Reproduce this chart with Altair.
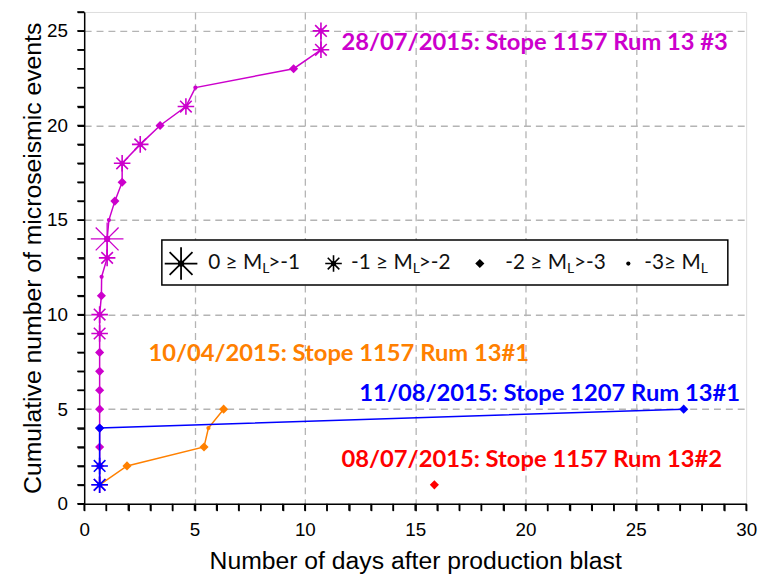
import altair as alt
import pandas as pd

# ---------------- data ----------------
series_names = ["28/07/2015: Stope 1157 Rum 13 #3",
                "10/04/2015: Stope 1157 Rum 13#1",
                "08/07/2015: Stope 1157 Rum 13#2",
                "11/08/2015: Stope 1207 Rum 13#1"]
series_colors = ["#CC00CC", "#FF8000", "#FF0000", "#0000FF"]

# magnitude classes: A = 0>=ML>-1, B = -1>=ML>-2, C = -2>=ML>-3, D = -3>=ML
mag_days = [0.70, 0.70, 0.70, 0.70, 0.70, 0.70, 0.70, 0.70, 0.70, 0.70,
            0.78, 0.79, 1.04, 1.04, 1.12, 1.39, 1.72, 1.72, 2.54, 3.44,
            4.61, 5.04, 9.49, 10.73, 10.73]
mag_count = [1, 2, 3, 4, 5, 6, 7, 8, 9, 10, 11, 12, 13, 14, 15, 16, 17, 18,
             19, 20, 21, 22, 23, 24, 25]
mag_class = ["B", "C", "C", "C", "C", "C", "C", "C", "B", "B", "C", "D", "B",
             "A", "D", "C", "C", "B", "B", "C", "B", "D", "C", "B", "B"]

org_days = [0.70, 1.94, 5.43, 5.63, 6.32]
org_count = [1, 2, 3, 4, 5]
org_class = ["D", "C", "C", "D", "C"]

red_days = [15.87]
red_count = [1]
red_class = ["C"]

blu_days = [0.70, 0.70, 0.70, 27.17]
blu_count = [1, 2, 4, 5]
blu_class = ["B", "B", "C", "C"]

# axis ticks: every unit, labelled every 5
x_ticks = [0, 1, 2, 3, 4, 5, 6, 7, 8, 9, 10, 11, 12, 13, 14, 15, 16, 17, 18, 19,
           20, 21, 22, 23, 24, 25, 26, 27, 28, 29, 30]
y_ticks = [0, 1, 2, 3, 4, 5, 6, 7, 8, 9, 10, 11, 12, 13, 14, 15, 16, 17, 18, 19,
           20, 21, 22, 23, 24, 25, 26]
x_grid = [5, 10, 15, 20, 25]
y_grid = [5, 10, 15, 20, 25]

# annotation placement (data units)
label_days = [11.66, 2.91, 11.66, 12.47]
label_count = [24.38, 7.9, 2.3, 5.81]

legend_sym_days = [4.39, 11.3, 17.93, 24.66]
legend_sym_class = ["A", "B", "C", "D"]
legend_prefix = ["0 \u2265 M", "-1 \u2265 M", "-2 \u2265 M", "-3\u2265 M"]
legend_prefix_end = [8.07, 14.89, 21.88, 27.94]
legend_suffix = [">-1", ">-2", ">-3", ""]
legend_suffix_start = [8.34, 15.16, 22.2, 28.5]
legend_y = 12.7
legend_box = [3.52, 29.17, 11.56, 13.95]

STAR = "M-1,0L1,0M0,-1L0,1M-0.7,-0.7L0.7,0.7M-0.7,0.7L0.7,-0.7"
VTICK = "M0,0L0,1"
HTICK = "M0,0L-1,0"

xs = alt.Scale(domain=[0, 30], nice=False, zero=False)
ys = alt.Scale(domain=[0, 26], nice=False, zero=False)
color = alt.Color("series:N", scale=alt.Scale(domain=series_names, range=series_colors), legend=None)

W, H = 669, 497
TICK = 7
LABEL_EXPR = "datum.value % 5 === 0 ? datum.label : ''"


def xenc(f="day"):
    return alt.X(f"{f}:Q", scale=xs, axis=None)


def yenc(f="count"):
    return alt.Y(f"{f}:Q", scale=ys, axis=None)


def marker_layers(df, col, big_width):
    base = alt.Chart(df)
    out = []
    specs = [("A", dict(shape=STAR, filled=False, size=1090, strokeWidth=big_width)),
             ("B", dict(shape=STAR, filled=False, size=280, strokeWidth=1.6)),
             ("A", dict(shape="circle", filled=True, size=40)),
             ("B", dict(shape="circle", filled=True, size=28)),
             ("C", dict(shape="diamond", filled=True, size=85)),
             ("D", dict(shape="circle", filled=True, size=18))]
    for cls, props in specs:
        out.append(base.transform_filter(alt.datum.cls == cls)
                   .mark_point(opacity=1, clip=False, **props)
                   .encode(x=xenc(), y=yenc(), color=col))
    return out


def series_layers(days, counts, classes, name):
    df = pd.DataFrame({"day": days, "count": counts, "cls": classes, "series": name})
    line = alt.Chart(df).mark_line(strokeWidth=1.5).encode(
        x=xenc(), y=yenc(), color=color, order="count:Q")
    return [line] + marker_layers(df, color, 1.3)


layers = []
dummy = pd.DataFrame({"day": [0], "count": [0]})
grid_layer = alt.Chart(dummy).mark_point(opacity=0).encode(
    x=alt.X("day:Q", scale=xs, axis=alt.Axis(orient="bottom", values=x_grid, grid=True, labels=False,
                                              ticks=False, domain=False, title=None,
                                              gridColor="#B4B4B4", gridDash=[7, 5], gridWidth=1.3)),
    y=alt.Y("count:Q", scale=ys, axis=alt.Axis(orient="left", values=y_grid, grid=True, labels=False,
                                                ticks=False, domain=False, title=None,
                                                gridColor="#B4B4B4", gridDash=[7, 5], gridWidth=1.3)))
major_layer = alt.Chart(dummy).mark_point(opacity=0).encode(
    x=alt.X("day:Q", scale=xs, axis=alt.Axis(orient="bottom", values=x_ticks, grid=False,
                                              labelExpr=LABEL_EXPR,
                                              tickSize=TICK, tickWidth=1.5, tickColor="black",
                                              domainColor="black", domainWidth=1.5,
                                              labelFont="Liberation Sans", labelFontSize=19,
                                              labelColor="black", labelPadding=10, labelFlush=False,
                                              labelOverlap=False,
                                              title="Number of days after production blast",
                                              titleFont="Liberation Sans", titleFontSize=25,
                                              titleFontWeight="normal", titleColor="black",
                                              titlePadding=9)),
    y=alt.Y("count:Q", scale=ys, axis=alt.Axis(orient="left", values=y_ticks, grid=False,
                                                labelExpr=LABEL_EXPR,
                                                tickSize=TICK, tickWidth=1.5, tickColor="black",
                                                domainColor="black", domainWidth=1.5,
                                                labelFont="Liberation Sans", labelFontSize=19,
                                                labelColor="black", labelPadding=10,
                                                labelOverlap=False,
                                                title="Cumulative number of microseismic events",
                                                titleFont="Liberation Sans", titleFontSize=25,
                                                titleFontWeight="normal", titleColor="black",
                                                titlePadding=1)))
layers += [grid_layer, major_layer]

# every-unit ticks drawn as tiny path symbols anchored on the axes
xt_df = pd.DataFrame({"v": x_ticks, "zero": [0] * len(x_ticks)})
yt_df = pd.DataFrame({"v": y_ticks, "zero": [0] * len(y_ticks)})
layers.append(alt.Chart(xt_df).mark_point(shape=VTICK, filled=False, size=4 * TICK * TICK,
                                          color="black", strokeWidth=1.5, opacity=1, clip=False).encode(
    x=xenc("v"), y=yenc("zero")))
layers.append(alt.Chart(yt_df).mark_point(shape=HTICK, filled=False, size=4 * TICK * TICK,
                                          color="black", strokeWidth=1.5, opacity=1, clip=False).encode(
    y=yenc("v"), x=xenc("zero")))

# data series (drawn in this order: magenta, orange, red, blue)
layers += series_layers(mag_days, mag_count, mag_class, series_names[0])
layers += series_layers(org_days, org_count, org_class, series_names[1])
layers += series_layers(red_days, red_count, red_class, series_names[2])
layers += series_layers(blu_days, blu_count, blu_class, series_names[3])

# series labels
lab_df = pd.DataFrame({"day": label_days, "count": label_count, "series": series_names})
layers.append(alt.Chart(lab_df).mark_text(align="left", baseline="middle", font="Lato",
                                          fontWeight="bold", fontSize=24).encode(
    x=xenc(), y=yenc(), color=color, text="series:N"))

# legend box
box_df = pd.DataFrame({"x1": [legend_box[0]], "x2": [legend_box[1]],
                       "y1": [legend_box[2]], "y2": [legend_box[3]]})
layers.append(alt.Chart(box_df).mark_rect(fill="white", stroke="black", strokeWidth=1.5).encode(
    x=alt.X("x1:Q", scale=xs, axis=None), x2="x2:Q",
    y=alt.Y("y1:Q", scale=ys, axis=None), y2="y2:Q"))

leg_sym = pd.DataFrame({"day": legend_sym_days, "count": [legend_y] * 4,
                        "cls": legend_sym_class})
layers += marker_layers(leg_sym, alt.value("black"), 1.8)

leg_txt = pd.DataFrame({"pre": legend_prefix, "pend": legend_prefix_end,
                        "suf": legend_suffix, "sstart": legend_suffix_start,
                        "count": [legend_y] * 4})
layers.append(alt.Chart(leg_txt).mark_text(align="right", baseline="middle", font="Lato",
                                           fontSize=21, color="#111111").encode(
    x=xenc("pend"), y=yenc(), text="pre:N"))
layers.append(alt.Chart(leg_txt).mark_text(align="left", baseline="middle", font="Lato",
                                           fontSize=14, color="#111111", dx=0, dy=6).encode(
    x=xenc("pend"), y=yenc(), text=alt.value("L")))
layers.append(alt.Chart(leg_txt).mark_text(align="left", baseline="middle", font="Lato",
                                           fontSize=21, color="#111111").encode(
    x=xenc("sstart"), y=yenc(), text="suf:N"))

chart = alt.layer(*layers).resolve_axis(x="independent", y="independent").properties(
    width=W, height=H,
    autosize=alt.AutoSizeParams(type="none"),
    padding={"left": 77, "top": 1, "right": 14, "bottom": 70},
).configure_view(stroke="black", strokeWidth=1.5).configure(background="white")

chart.save("out.html", embed_options={"renderer": "svg", "actions": False})
